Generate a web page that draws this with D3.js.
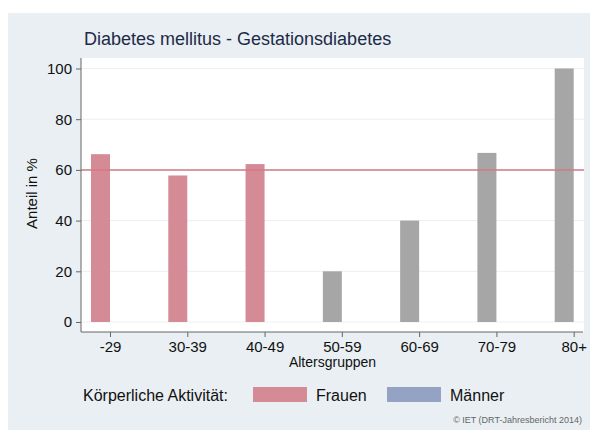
<!DOCTYPE html>
<html>
<head>
<meta charset="utf-8">
<script src="https://cdn.jsdelivr.net/npm/d3@7"></script>
<style>
  html, body { margin: 0; padding: 0; background: #ffffff; }
  svg { display: block; font-family: "Liberation Sans", Arial, sans-serif; }
</style>
</head>
<body>
<svg id="chart" width="595" height="432"></svg>
<script>
// Age groups and share (%) with physical activity
const categories = ["-29", "30-39", "40-49", "50-59", "60-69", "70-79", "80+"];
const sex = ["Frauen", "Frauen", "Frauen", "Männer", "Männer", "Männer", "Männer"];
const values = [66.2, 57.8, 62.3, 20, 40, 66.7, 100];
const yTicks = [0, 20, 40, 60, 80, 100];
const referenceValue = 60;
const legendItems = ["Frauen", "Männer"];

const colors = { "Frauen": "#d58b96", "Männer": "#a6a6a6" };
const legendColors = { "Frauen": "#d58b96", "Männer": "#94a3c4" };

const svg = d3.select("#chart");

// outer panel
svg.append("rect").attr("x", 8).attr("y", 13).attr("width", 582).attr("height", 417)
  .attr("fill", "#e9eff2");

const plot = { left: 81, right: 584, top: 58, bottom: 332 };

svg.append("rect").attr("x", plot.left).attr("y", plot.top)
  .attr("width", plot.right - plot.left).attr("height", plot.bottom - plot.top)
  .attr("fill", "#ffffff");

const y = d3.scaleLinear().domain([0, 100]).range([322, 68.5]);
const x = d3.scalePoint().domain(categories).range([110, 573.7]);
const barWidth = 19;

// gridlines
svg.append("g").selectAll("line").data(yTicks).join("line")
  .attr("x1", plot.left).attr("x2", plot.right)
  .attr("y1", d => y(d)).attr("y2", d => y(d))
  .attr("stroke", "#ebeff3").attr("stroke-width", 1);

// bars
svg.append("g").selectAll("rect").data(values).join("rect")
  .attr("x", (d, i) => x(categories[i]) - barWidth)
  .attr("width", barWidth)
  .attr("y", d => y(d))
  .attr("height", d => y(0) - y(d))
  .attr("fill", (d, i) => colors[sex[i]]);

// reference line
svg.append("line")
  .attr("x1", plot.left).attr("x2", plot.right)
  .attr("y1", y(referenceValue)).attr("y2", y(referenceValue))
  .attr("stroke", "#d27985").attr("stroke-width", 1.5);

// y axis
const yAxis = svg.append("g").attr("transform", `translate(${plot.left},0)`)
  .call(d3.axisLeft(y).tickValues(yTicks).tickSize(5).tickPadding(4));
yAxis.select(".domain").attr("d", `M0,${plot.top}V${plot.bottom}`).attr("stroke", "#666");
yAxis.selectAll(".tick line").attr("stroke", "#666");
yAxis.selectAll(".tick text").attr("font-size", 15).attr("fill", "#111")
  .attr("font-family", "Liberation Sans, Arial, sans-serif");

// x axis
const xAxis = svg.append("g").attr("transform", `translate(0,${plot.bottom})`)
  .call(d3.axisBottom(x).tickSize(5).tickPadding(4));
xAxis.select(".domain").attr("d", `M${plot.left},0H${plot.right - 1}`).attr("stroke", "#666");
xAxis.selectAll(".tick line").attr("stroke", "#666");
xAxis.selectAll(".tick text").attr("font-size", 15).attr("fill", "#111")
  .attr("font-family", "Liberation Sans, Arial, sans-serif");

// titles
svg.append("text").attr("x", 84).attr("y", 45)
  .attr("font-size", 18).attr("fill", "#1e2a48")
  .text("Diabetes mellitus - Gestationsdiabetes");

svg.append("text").attr("x", (plot.left + plot.right) / 2).attr("y", 367)
  .attr("text-anchor", "middle").attr("font-size", 14).attr("fill", "#111")
  .text("Altersgruppen");

svg.append("text").attr("transform", "translate(37,193.5) rotate(-90)")
  .attr("text-anchor", "middle").attr("font-size", 15).attr("fill", "#111")
  .text("Anteil in %");

// legend
svg.append("text").attr("x", 83).attr("y", 401)
  .attr("font-size", 16).attr("fill", "#111")
  .text("Körperliche Aktivität:");

const legendX = d3.scaleOrdinal().domain(legendItems).range([253, 387]);
const lg = svg.append("g").selectAll("g").data(legendItems).join("g")
  .attr("transform", d => `translate(${legendX(d)},0)`);
lg.append("rect").attr("x", 0).attr("y", 387).attr("width", 54).attr("height", 15)
  .attr("fill", d => legendColors[d]);
lg.append("text").attr("x", 63).attr("y", 401)
  .attr("font-size", 16).attr("fill", "#111")
  .text(d => d);

// source note
svg.append("text").attr("x", 582).attr("y", 423)
  .attr("text-anchor", "end").attr("font-size", 9).attr("fill", "#666")
  .text("© IET (DRT-Jahresbericht 2014)");
</script>
</body>
</html>
